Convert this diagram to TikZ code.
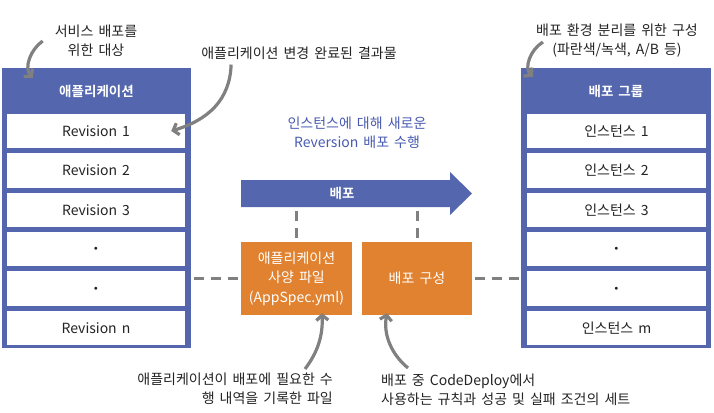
\documentclass[tikz,border=0pt]{standalone}
\usepackage{fontspec}
\setmainfont{Noto Sans CJK KR}[BoldFont={Noto Sans CJK KR Bold}, WordSpace=1.6]
\usetikzlibrary{arrows.meta,positioning}

\definecolor{cdblue}{RGB}{84,102,173}
\definecolor{cdtextblue}{RGB}{72,90,176}
\definecolor{cdorange}{RGB}{224,130,48}
\definecolor{cdgray}{RGB}{128,128,128}
\definecolor{cdtext}{RGB}{35,35,35}

\begin{document}
\begin{tikzpicture}[x=1pt, y=-1pt, node distance=39.4pt,
    font=\fontsize{14}{19}\selectfont,
    colbox/.style={rectangle, fill=cdblue, minimum width=189pt, minimum height=280pt, inner sep=0pt},
    rowbox/.style={rectangle, fill=white, minimum width=178pt, minimum height=34.5pt, inner sep=0pt, text=cdtext},
    headtext/.style={text=white, font=\fontsize{13.5}{19}\selectfont\bfseries},
    specblock/.style={rectangle, fill=cdorange, text=white, minimum width=111pt, minimum height=73pt, inner sep=0pt, align=center, font=\fontsize{14}{19.5}\selectfont},
    note/.style={text=cdtext, align=center, inner sep=0pt},
    pointer/.style={draw=cdgray, line width=3.2pt, -{Straight Barb[length=5pt,width=12pt]}},
    dashline/.style={draw=cdgray, line width=3pt, dash pattern=on 10pt off 7pt}]

    \useasboundingbox (0,0) rectangle (714,412);

    % application revisions
    \node [colbox] (appcol) at (96.5,208) {};
    \node [headtext] (apphead) at (96.5,91) {애플리케이션};
    \node [rowbox] (rev1) at (96,131) {Revision 1};
    \node [rowbox, below of=rev1] (rev2) {Revision 2};
    \node [rowbox, below of=rev2] (rev3) {Revision 3};
    \node [rowbox, below of=rev3] (revdot1) {\fontsize{7}{7}\selectfont$\bullet$};
    \node [rowbox, below of=revdot1] (revdot2) {\fontsize{7}{7}\selectfont$\bullet$};
    \node [rowbox, below of=revdot2] (revn) {Revision n};

    % deployment group
    \node [colbox, minimum width=190pt] (grpcol) at (616,208) {};
    \node [headtext] (grphead) at (616,91) {배포 그룹};
    \node [rowbox, minimum width=179pt] (inst1) at (616.5,131) {인스턴스 1};
    \node [rowbox, minimum width=179pt, below of=inst1] (inst2) {인스턴스 2};
    \node [rowbox, minimum width=179pt, below of=inst2] (inst3) {인스턴스 3};
    \node [rowbox, minimum width=179pt, below of=inst3] (instdot1) {\fontsize{7}{7}\selectfont$\bullet$};
    \node [rowbox, minimum width=179pt, below of=instdot1] (instdot2) {\fontsize{7}{7}\selectfont$\bullet$};
    \node [rowbox, minimum width=179pt, below of=instdot2] (instm) {인스턴스 m};

    % deploy arrow
    \fill [cdblue] (241,180) -- (450,180) -- (450,172) -- (472,193.5) -- (450,215) -- (450,207) -- (241,207) -- cycle;
    \node [headtext] (deploy) at (342,193.5) {배포};
    \coordinate (arrowfoot) at (0,207);

    \node [specblock] (appspec) at (296.5,278.5) {애플리케이션\\사양 파일\\(AppSpec.yml)};
    \node [specblock, right of=appspec, node distance=120.5pt, minimum width=110pt] (depcfg) {배포 구성};

    \path [dashline, shorten <=4pt, shorten >=4pt] (appspec.north |- arrowfoot) -- (appspec.north);
    \path [dashline, shorten <=4pt, shorten >=4pt] (depcfg.north |- arrowfoot) -- (depcfg.north);
    \path [dashline, shorten <=3pt, shorten >=3pt] (appcol.east |- appspec.west) -- (appspec.west);
    \path [dashline, shorten <=3pt, shorten >=2pt] (depcfg.east) -- (grpcol.west |- depcfg.east);

    % notes
    \node [note] (svcnote) at (96,41) {서비스 배포를\\위한 대상};
    \node [note] (revnote) at (299,53) {애플리케이션 변경 완료된 결과물};
    \node [note] (envnote) at (617,41) {배포 환경 분리를 위한 구성\\(파란색/녹색, A/B 등)};
    \node [note, text=cdtextblue] (newrev) at (357,133) {인스턴스에 대해 새로운\\Reversion 배포 수행};
    \node [note, align=right, anchor=east] (specnote) at (333,389) {애플리케이션이 배포에 필요한 수\\행 내역을 기록한 파일};
    \node [note, align=left, anchor=west] (cfgnote) at (381,390) {배포 중 CodeDeploy에서\\사용하는 규칙과 성공 및 실패 조건의 세트};

    \draw [pointer] ([xshift=-12pt]svcnote.west) .. controls (30,50) and (24,68) .. ([shift={(31,10)}]appcol.north west);
    \draw [pointer] ([shift={(30,5)}]revnote.south west) .. controls (230,100) and (208,120) .. ([xshift=-14pt]rev1.east);
    \draw [pointer] ([shift={(7,1)}]envnote.west) .. controls (530,50) and (524,68) .. ([shift={(12,9)}]grpcol.north west);
    \draw [pointer] ([shift={(-28,-4)}]specnote.north east) .. controls (318,352) and (323,335) .. ([shift={(25.5,-2)}]appspec.south);
    \draw [pointer] ([shift={(27,-6)}]cfgnote.north west) .. controls (392,355) and (383,335) .. ([shift={(-30,-2)}]depcfg.south);
\end{tikzpicture}
\end{document}
